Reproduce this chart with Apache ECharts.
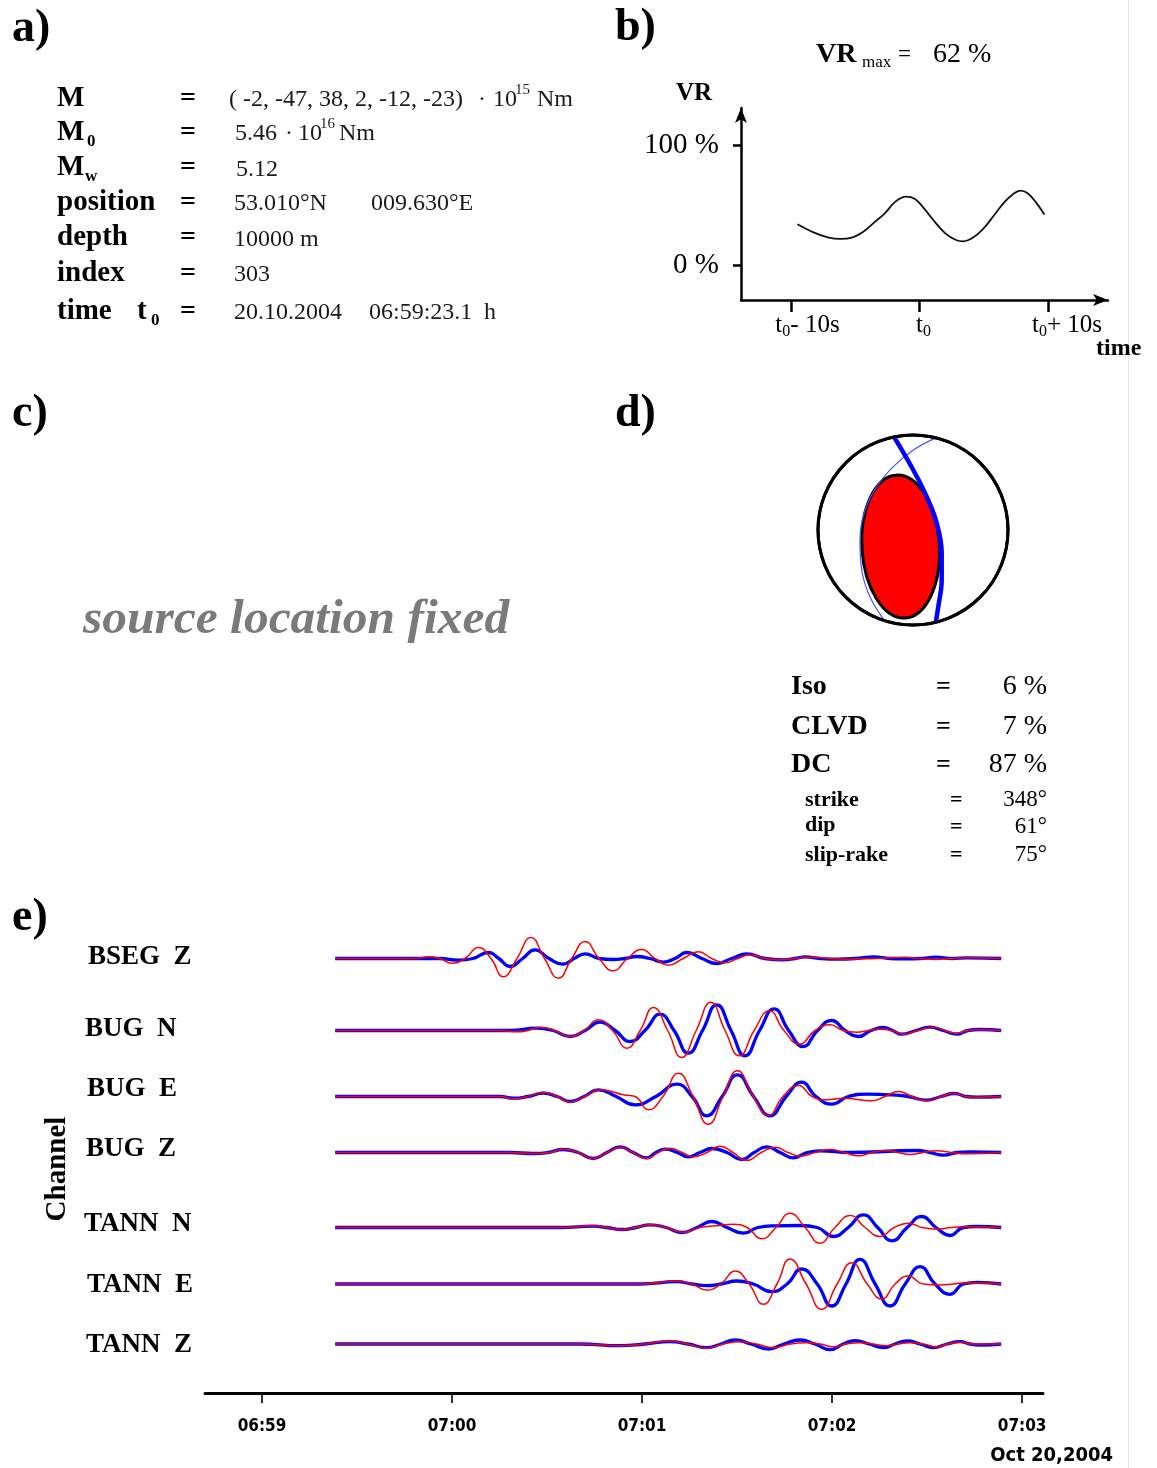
<!DOCTYPE html>
<html>
<head>
<meta charset="utf-8">
<script src="https://cdn.jsdelivr.net/npm/echarts@6/dist/echarts.min.js"></script>
<style>
  html, body { margin: 0; padding: 0; background: #fff; }
  #main { width: 1157px; height: 1468px; }
</style>
</head>
<body>
<div id="main"></div>
<script>
// ---------- b) variance reduction around the source time ----------
const vrTime = [-9.5, -8.25, -7.14, -6.17, -5.2, -4.37, -3.54, -2.7, -1.87, -1.04, -0.35, 0.35, 1.18, 2.01, 2.84, 3.4, 4.09, 4.92, 5.76, 6.59, 7.28, 7.84, 8.39, 9.08, 9.72];
const vrPercent = [33.9, 27.2, 23.1, 21.7, 23.1, 27.8, 35.3, 43.1, 52.8, 56.9, 55.0, 47.2, 36.1, 26.4, 20.8, 19.7, 22.2, 29.7, 40.8, 52.2, 59.0, 62.0, 60.0, 52.0, 42.0];
const vrTicks = [0, 100];
const vrTimeTicks = [-10, 0, 10];

// ---------- d) focal mechanism (unit lower hemisphere) ----------
const ballRim = [0, 0, 1];                                  // centre x, centre y, radius
const tensionLobe = [-0.13, -0.174, 0.408, 0.753, 3.6];     // cx, cy, rx, ry, tilt (deg)
const nodalPlaneA = [[-0.2, 0.98], [0.003, 0.632], [0.144, 0.351], [0.249, 0.074], [0.302, -0.242], [0.302, -0.526], [0.266, -0.807], [0.24, -0.97]];
const nodalPlaneB = [[0.24, 0.97], [0.003, 0.842], [-0.207, 0.667], [-0.382, 0.456], [-0.505, 0.211], [-0.558, -0.105], [-0.54, -0.421], [-0.453, -0.702], [-0.3, -0.954]];

// ---------- e) waveforms: [seconds after 06:59:00, amplitude] ----------
const channels = ['BSEG  Z', 'BUG  N', 'BUG  E', 'BUG  Z', 'TANN  N', 'TANN  E', 'TANN  Z'];
const timeTicks = [0, 60, 120, 180, 240];
const timeTickLabels = ['06:59', '07:00', '07:01', '07:02', '07:03'];

const bsegZRed = [[23.1,0],[48.3,0],[52.5,1.7],[56.2,0],[59.9,-4.7],[64.1,0],[68.3,11],[72.3,0],[76.2,-18.3],[80.5,0],[84.9,21],[89.2,0],[93.6,-19.7],[97.8,0],[102.0,17],[106.4,0],[110.9,-12.3],[115.4,0],[119.9,9],[124.1,0],[128.3,-6.7],[133.0,0],[137.8,6.7],[142.0,0],[146.2,-4.3],[150.2,0],[154.1,3.7],[158.8,0],[163.6,-1.3],[168.3,0],[173.4,1.3],[179.4,0],[184.7,-0.7],[193.6,0],[203.1,1.3],[207.8,0],[212.8,-1],[217.9,0],[222.6,0.7],[233.4,0]];
const bsegZBlue = [[23.1,0],[56.2,0],[62.0,-1.7],[66.6,0],[71.5,6],[74.8,0],[78.3,-8],[82.3,0],[86.2,8.7],[90.6,0],[95.1,-5.7],[98.5,0],[102.0,4.7],[106.4,0],[110.8,-1],[114.6,0],[118.3,2],[122.5,0],[126.7,-3.7],[130.4,0],[134.1,6],[138.9,0],[143.6,-5],[148.3,0],[153.1,4.7],[158.8,0],[164.6,-1.3],[168.3,0],[171.5,1.7],[176.2,0],[181.9,-0.7],[187.3,0],[193.3,1.7],[198.3,0],[203.1,-0.3],[207.8,0],[212.8,1.3],[217.9,0],[222.6,0.7],[233.4,0]];

const bugNRed = [[23.1,0],[75.2,0],[80.7,-1.3],[84.0,0],[87.8,3.3],[92.5,0],[97.3,-6],[101.7,0],[106.2,10.7],[110.7,0],[115.2,-17.7],[119.4,0],[123.6,23],[128.1,0],[132.5,-27],[137.1,0],[141.7,28.3],[146.2,0],[150.7,-25.3],[155.4,0],[160.2,19.7],[164.8,0],[169.7,-13.7],[174.6,0],[179.4,5.7],[183.5,0],[187.8,-1.7],[191.4,0],[195.2,1.3],[198.9,0],[202.5,-3.7],[207.2,0],[212.0,3.3],[215.7,0],[219.4,-2.7],[222.9,0],[226.7,0.7],[233.4,0]];
const bugNBlue = [[23.1,0],[78.3,0],[86.7,2.3],[91.9,0],[97.3,-6],[102.0,0],[106.7,8.3],[111.5,0],[116.2,-11],[120.9,0],[125.7,16.3],[130.1,0],[134.6,-22.7],[139.1,0],[143.6,25.7],[148.1,0],[152.5,-25.3],[157.1,0],[161.7,21.7],[166.3,0],[170.9,-16],[175.4,0],[179.9,10],[184.1,0],[188.3,-6],[192.3,0],[196.2,3],[199.1,0],[202.0,-3.7],[206.5,0],[210.9,3.3],[215.1,0],[219.4,-3.7],[222.9,0],[226.7,1],[233.4,0]];

const bugERed = [[23.1,0],[75.2,0],[79.4,-2.3],[84.0,0],[88.8,4.3],[93.2,0],[97.3,-5.7],[102.0,0],[106.7,6.7],[114.1,1.7],[117.8,0],[122.0,-13.3],[126.6,0],[131.5,23.3],[136.1,0],[140.9,-27.7],[145.6,0],[150.1,25.7],[155.1,0],[159.9,-19],[164.5,0],[169.4,11],[173.7,0],[178.3,-3.3],[183.6,-1.7],[192.5,-4.3],[196.7,0],[200.9,5],[205.3,0],[209.9,-4.3],[214.4,0],[218.8,3],[222.3,0],[225.7,-0.7],[233.4,0]];
const bugEBlue = [[23.1,0],[75.2,0],[79.4,-1.7],[84.0,0],[88.8,3.3],[93.2,0],[97.3,-5],[101.7,0],[106.2,6.7],[111.8,0],[117.8,-8.3],[124.4,0],[131.0,12.3],[135.8,0],[140.4,-19.3],[145.3,0],[150.1,21.7],[155.2,0],[160.4,-19.3],[165.5,0],[170.4,14.3],[174.9,0],[179.9,-7.7],[185.1,0],[191.0,2.3],[198.3,1.7],[204.0,0],[209.9,-3.7],[214.4,0],[218.8,3],[222.3,0],[225.7,-0.7],[233.4,0]];

const bugZRed = [[23.1,0],[78.3,0],[86.2,-1],[90.9,0],[95.1,3.3],[99.8,0],[104.6,-6],[108.9,0],[113.1,5],[117.2,0],[121.5,-6],[125.1,0],[128.8,4.3],[132.6,0],[136.2,-4.3],[140.5,0],[144.6,6.3],[148.7,0],[153.1,-8],[157.6,0],[162.0,5.3],[166.1,0],[169.9,-3.7],[174.6,0],[179.4,3],[183.8,0],[188.3,-3.3],[192.6,0],[197.3,2],[200.8,0],[204.6,-2],[208.7,0],[213.1,1.7],[217.6,0],[222.5,-1.3],[233.4,0]];
const bugZBlue = [[23.1,0],[78.3,0],[85.6,-1],[90.3,0],[95.1,3],[99.8,0],[104.6,-6],[108.9,0],[113.1,5.7],[117.2,0],[121.5,-5.3],[124.4,0],[127.3,3.3],[131.1,0],[134.6,-4.3],[138.3,0],[142.0,4],[146.8,0],[151.5,-7],[155.4,0],[159.4,5.7],[163.6,0],[167.8,-5.3],[172.1,0],[176.2,1.7],[185.7,0],[206.7,2],[210.9,0],[215.2,-2.7],[219.5,0],[223.6,0.7],[233.4,0]];

const tannNRed = [[23.1,0],[94.1,0],[104.5,1.7],[108.9,0],[113.7,-2.3],[118.1,0],[122.5,2.7],[127.6,0],[133.0,-4.7],[138.3,0],[143.4,1.7],[148.8,3.3],[153.2,0],[157.8,-11.3],[162.3,0],[166.7,14.3],[171.5,0],[176.2,-15.7],[180.9,0],[185.7,12],[190.4,0],[195.2,-9],[199.6,0],[204.1,4.3],[208.4,0],[213.1,-1.7],[217.6,0],[222.5,0.7],[233.4,0]];
const tannNBlue = [[23.1,0],[94.1,0],[104.5,1.3],[108.9,0],[113.7,-2],[118.1,0],[122.5,2.7],[127.6,0],[132.5,-5],[137.4,0],[142.0,6],[146.8,0],[152.0,-5.7],[156.6,0],[161.5,1.7],[169.9,2],[175.3,0],[180.4,-9],[185.1,0],[189.9,12.7],[194.4,0],[198.9,-13.3],[203.7,0],[208.3,11],[212.8,0],[217.3,-8],[221.4,0],[225.7,1],[233.4,0]];

const tannERed = [[23.1,0],[119.4,0],[131.0,3],[135.8,0],[140.4,-6],[144.9,0],[149.4,13],[153.8,0],[158.3,-20.3],[162.6,0],[166.7,25],[171.8,0],[176.7,-25.3],[181.6,0],[186.2,21.3],[191.1,0],[195.7,-15],[199.9,0],[204.1,8],[208.7,0],[214.1,-1],[218.2,0],[222.5,1.3],[233.4,0]];
const tannEBlue = [[23.1,0],[119.4,0],[131.0,2.3],[135.8,0],[140.4,-1.7],[144.9,0],[149.9,3],[155.1,0],[161.0,-7.7],[165.8,0],[170.4,15],[175.3,0],[179.9,-22],[184.4,0],[188.8,24.7],[193.6,0],[198.3,-22],[203.1,0],[207.8,17.3],[212.5,0],[217.3,-10.3],[221.4,0],[225.7,1.7],[233.4,0]];

const tannZRed = [[23.1,0],[100.4,0],[113.1,-1.7],[120.9,0],[128.8,3],[134.5,0],[140.4,-4.3],[145.6,0],[150.9,2.3],[156.0,0],[161.5,-3.7],[166.7,0],[172.0,1.3],[176.2,0],[180.4,-2.7],[184.4,0],[188.8,1.3],[192.9,0],[197.3,-1.7],[200.8,0],[204.6,1.3],[208.7,0],[213.1,-2.7],[216.6,0],[220.4,1.7],[225.2,0],[233.4,0]];
const tannZBlue = [[23.1,0],[100.4,0],[113.1,-1.7],[120.9,0],[128.8,2.3],[134.5,0],[140.4,-3.7],[144.9,0],[149.4,4],[154.4,0],[159.9,-5],[164.8,0],[169.9,4],[174.6,0],[179.4,-5.7],[183.5,0],[187.3,3.3],[191.7,0],[196.2,-3.7],[199.9,0],[203.6,3],[207.8,0],[212.0,-3.7],[216.3,0],[220.4,2.3],[223.6,0],[226.7,-1],[233.4,0]];

const redTraces = [bsegZRed, bugNRed, bugERed, bugZRed, tannNRed, tannERed, tannZRed];
const blueTraces = [bsegZBlue, bugNBlue, bugEBlue, bugZBlue, tannNBlue, tannEBlue, tannZBlue];

// ---------- layout ----------
const serif = '"Liberation Serif", "Times New Roman", serif';
const narrow = '"DejaVu Sans Condensed", "Liberation Sans Narrow", "Roboto Condensed", "DejaVu Sans", sans-serif';
const traceBase = [958.5, 1030.5, 1096.5, 1152.5, 1227.5, 1284, 1344];
const labelLeft = [88, 85, 87, 86, 84, 87, 86];
const labelRaise = [1.5, 1.5, 7.5, 3.5, 3, -1, -1];   // channel name offset above its trace, px
const traceHalf = 30;
const axisMin = -18, axisMax = 246.6;

// text helper: x, baseline y, size
function T(text, x, base, size, o) {
  o = o || {};
  return {
    type: 'text', x: x, y: base + size * 0.2, z: 50, silent: true,
    style: {
      text: text, fontFamily: o.family || serif, fontSize: size,
      fontWeight: o.bold ? 'bold' : 'normal', fontStyle: o.italic ? 'italic' : 'normal',
      fill: o.color || '#000', align: o.align || 'left', verticalAlign: 'bottom'
    }
  };
}

const vrMax = Math.max.apply(null, vrPercent);
const ink = '#1a1a1a';

const texts = [
  // panel letters
  T('a)', 12, 43, 46, {bold: true}),
  T('b)', 615, 42, 46, {bold: true}),
  T('c)', 12, 428, 46, {bold: true}),
  T('d)', 615, 428, 46, {bold: true}),
  T('e)', 12, 932, 46, {bold: true}),

  // a) source parameters
  T('M', 57, 107, 29, {bold: true}),
  T('=', 180, 107, 28, {bold: true}),
  T('( -2, -47, 38, 2, -12, -23)', 229, 107, 24, {color: ink}),
  T('·', 478, 107, 24, {color: ink}),
  T('10', 493, 107, 24, {color: ink}),
  T('15', 515, 95, 15, {color: ink}),
  T('Nm', 537, 107, 24, {color: ink}),

  T('M', 57, 141, 29, {bold: true}),
  T('0', 87, 147, 17, {bold: true}),
  T('=', 180, 141, 28, {bold: true}),
  T('5.46', 235, 141, 24, {color: ink}),
  T('·', 285, 141, 24, {color: ink}),
  T('10', 298, 141, 24, {color: ink}),
  T('16', 320, 129, 15, {color: ink}),
  T('Nm', 339, 141, 24, {color: ink}),

  T('M', 57, 176, 29, {bold: true}),
  T('w', 85, 182, 17, {bold: true}),
  T('=', 180, 176, 28, {bold: true}),
  T('5.12', 236, 177, 24, {color: ink}),

  T('position', 57, 211, 29, {bold: true}),
  T('=', 180, 211, 28, {bold: true}),
  T('53.010°N', 234, 211, 24, {color: ink}),
  T('009.630°E', 371, 211, 24, {color: ink}),

  T('depth', 57, 246, 29, {bold: true}),
  T('=', 180, 246, 28, {bold: true}),
  T('10000 m', 234, 247, 24, {color: ink}),

  T('index', 57, 282, 29, {bold: true}),
  T('=', 180, 282, 28, {bold: true}),
  T('303', 234, 282, 24, {color: ink}),

  T('time', 57, 320, 29, {bold: true}),
  T('t', 137, 320, 29, {bold: true}),
  T('0', 151, 326, 17, {bold: true}),
  T('=', 180, 320, 28, {bold: true}),
  T('20.10.2004', 234, 320, 24, {color: ink}),
  T('06:59:23.1', 369, 320, 24, {color: ink}),
  T('h', 484, 320, 24, {color: ink}),

  // b) titles
  T('VR', 816, 63, 28, {bold: true}),
  T('max', 862, 68, 17),
  T('=', 898, 62, 23),
  T(vrMax + ' %', 933, 63, 28),
  T('VR', 676, 101, 25, {bold: true}),
  T('time', 1096, 356, 24, {bold: true}),

  // c)
  T('source location fixed', 83, 635, 49.5, {bold: true, italic: true, color: '#7a7a7a'}),

  // d) decomposition
  T('Iso', 791, 695, 28, {bold: true}),
  T('=', 936, 695, 26, {bold: true}),
  T('6 %', 1047, 695, 28, {align: 'right'}),
  T('CLVD', 791, 735, 28, {bold: true}),
  T('=', 936, 735, 26, {bold: true}),
  T('7 %', 1047, 735, 28, {align: 'right'}),
  T('DC', 791, 773, 28, {bold: true}),
  T('=', 936, 773, 26, {bold: true}),
  T('87 %', 1047, 773, 28, {align: 'right'}),
  T('strike', 805, 807, 22, {bold: true}),
  T('=', 950, 807, 22, {bold: true}),
  T('348°', 1047, 807, 23, {align: 'right'}),
  T('dip', 805, 832, 22, {bold: true}),
  T('=', 950, 834, 22, {bold: true}),
  T('61°', 1047, 834, 23, {align: 'right'}),
  T('slip-rake', 805, 862, 22, {bold: true}),
  T('=', 950, 862, 22, {bold: true}),
  T('75°', 1047, 862, 23, {align: 'right'}),

  // e) axis annotations
  {
    type: 'text', x: 58, y: 1169, rotation: Math.PI / 2, z: 50, silent: true,
    style: { text: 'Channel', fontFamily: serif, fontSize: 29, fontWeight: 'bold', fill: '#000', align: 'center', verticalAlign: 'middle' }
  },
  T('Oct 20,2004', 1113, 1462, 20, {bold: true, family: narrow, align: 'right'}),

  // page edge
  { type: 'line', z: 0, silent: true, shape: { x1: 1128.5, y1: 0, x2: 1128.5, y2: 1468 }, style: { stroke: '#e4e4e4', lineWidth: 1 } }
];

// ---------- grids & axes ----------
const grids = [
  { left: 741, top: 108, width: 367, height: 192 },                 // 0: VR
  { left: 813.25, top: 430.25, width: 199.5, height: 199.5 }        // 1: beach ball
];
const xAxes = [
  {
    gridIndex: 0, type: 'value', min: -13.89, max: 14.67,
    axisLine: { show: true, onZero: false, symbol: ['none', 'arrow'], symbolSize: [9, 15], lineStyle: { color: '#000', width: 2.5 } },
    axisTick: { show: true, customValues: vrTimeTicks, length: 12, lineStyle: { color: '#000', width: 2.5 } },
    axisLabel: {
      customValues: vrTimeTicks, margin: 10, color: '#000',
      formatter: function (v) {
        if (v === 0) return '{g0| }{t|t}{s|0}';
        const gap = v < 0 ? '{gm| }' : '{gp| }';
        return gap + '{t|t}{s|0}{t|' + (v < 0 ? '- ' : '+ ') + Math.abs(v) + 's}';
      },
      rich: {
        t: { fontFamily: serif, fontSize: 25, lineHeight: 30, color: '#000' },
        s: { fontFamily: serif, fontSize: 16, lineHeight: 30, color: '#000', verticalAlign: 'bottom' },
        g0: { width: 8, fontSize: 10 },
        gm: { width: 33, fontSize: 10 },
        gp: { width: 38, fontSize: 10 }
      }
    },
    splitLine: { show: false }
  },
  { gridIndex: 1, type: 'value', min: -1.05, max: 1.05, show: false }
];
const yAxes = [
  {
    gridIndex: 0, type: 'value', min: -29.17, max: 130.83,
    axisLine: { show: true, onZero: false, symbol: ['none', 'arrow'], symbolSize: [9, 15], lineStyle: { color: '#000', width: 2.5 } },
    axisTick: { show: true, customValues: vrTicks, length: 8, lineStyle: { color: '#000', width: 2.5 } },
    axisLabel: { customValues: vrTicks, formatter: function (v) { return v + ' %'; }, fontFamily: serif, fontSize: 29, color: '#000', margin: 22 },
    splitLine: { show: false }
  },
  { gridIndex: 1, type: 'value', min: -1.05, max: 1.05, show: false }
];

const series = [
  {
    type: 'line', xAxisIndex: 0, yAxisIndex: 0, smooth: 0.4, symbol: 'none',
    data: vrTime.map(function (t, i) { return [t, vrPercent[i]]; }),
    lineStyle: { color: '#111', width: 1.8 }
  },
  {
    type: 'custom', xAxisIndex: 1, yAxisIndex: 1, z: 1, clip: false, data: [ballRim],
    renderItem: function (p, api) {
      const c = api.coord([api.value(0), api.value(1)]);
      const r = api.size([api.value(2), 0])[0];
      return { type: 'circle', shape: { cx: c[0], cy: c[1], r: r }, style: { fill: '#fff', stroke: '#000', lineWidth: 3 } };
    }
  },
  {
    type: 'custom', xAxisIndex: 1, yAxisIndex: 1, z: 2, clip: false, data: [tensionLobe],
    renderItem: function (p, api) {
      const c = api.coord([api.value(0), api.value(1)]);
      const s = api.size([api.value(2), api.value(3)]);
      return {
        type: 'ellipse', x: c[0], y: c[1], rotation: api.value(4) * Math.PI / 180,
        shape: { cx: 0, cy: 0, rx: s[0], ry: s[1] },
        style: { fill: '#ff0000', stroke: '#000', lineWidth: 3 }
      };
    }
  },
  {
    type: 'line', xAxisIndex: 1, yAxisIndex: 1, z: 3, smooth: 0.4, symbol: 'none', data: nodalPlaneB,
    lineStyle: { color: '#4d4dff', width: 1.2 }
  },
  {
    type: 'line', xAxisIndex: 1, yAxisIndex: 1, z: 4, smooth: 0.4, symbol: 'none', data: nodalPlaneA,
    lineStyle: { color: '#0000ff', width: 4.5 }
  },
  {
    type: 'custom', xAxisIndex: 1, yAxisIndex: 1, z: 5, clip: false, data: [ballRim],
    renderItem: function (p, api) {
      const c = api.coord([api.value(0), api.value(1)]);
      const r = api.size([api.value(2), 0])[0];
      return { type: 'circle', shape: { cx: c[0], cy: c[1], r: r }, style: { fill: 'none', stroke: '#000', lineWidth: 3 } };
    }
  }
];

channels.forEach(function (name, i) {
  const gi = grids.length;
  grids.push({ left: 205, width: 838, top: traceBase[i] - traceHalf, height: traceHalf * 2 });
  xAxes.push({ gridIndex: gi, type: 'value', min: axisMin, max: axisMax, show: false });
  yAxes.push({
    gridIndex: gi, type: 'value', min: -traceHalf, max: traceHalf,
    axisLine: { show: false }, axisTick: { show: false }, splitLine: { show: false },
    axisLabel: {
      // the channel name sits at the trace level, nudged by labelRaise (axis units are pixels here)
      customValues: [labelRaise[i]], formatter: function () { return name; },
      align: 'left', margin: 205 - labelLeft[i],
      fontFamily: serif, fontSize: 27, fontWeight: 'bold', color: '#000'
    }
  });
  series.push({
    type: 'line', xAxisIndex: gi, yAxisIndex: gi, z: 2, smooth: 0.5, symbol: 'none',
    data: blueTraces[i], lineStyle: { color: '#0000ff', width: 3.3 }
  });
  series.push({
    type: 'line', xAxisIndex: gi, yAxisIndex: gi, z: 3, smooth: 0.5, symbol: 'none',
    data: redTraces[i], lineStyle: { color: '#ff0000', width: 1.5 }
  });
});

// shared time axis below the traces
const tg = grids.length;
grids.push({ left: 205, width: 838, top: 1370, height: 23 });
xAxes.push({
  gridIndex: tg, type: 'value', min: axisMin, max: axisMax, position: 'bottom',
  axisLine: { show: true, onZero: false, lineStyle: { color: '#000', width: 3 } },
  axisTick: { show: true, customValues: timeTicks, length: 10, lineStyle: { color: '#000', width: 1.6 } },
  axisLabel: {
    customValues: timeTicks, margin: 25, fontFamily: narrow, fontSize: 17, fontWeight: 'bold', color: '#000',
    formatter: function (v) { return timeTickLabels[timeTicks.indexOf(v)]; }
  },
  splitLine: { show: false }
});
yAxes.push({ gridIndex: tg, type: 'value', min: 0, max: 1, show: false });

grids.forEach(function (g) { g.outerBoundsMode = 'none'; g.containLabel = false; });

const chart = echarts.init(document.getElementById('main'), null, { renderer: 'canvas' });
chart.setOption({
  animation: false,
  backgroundColor: '#fff',
  grid: grids,
  xAxis: xAxes,
  yAxis: yAxes,
  series: series,
  graphic: { elements: texts }
});
</script>
</body>
</html>
